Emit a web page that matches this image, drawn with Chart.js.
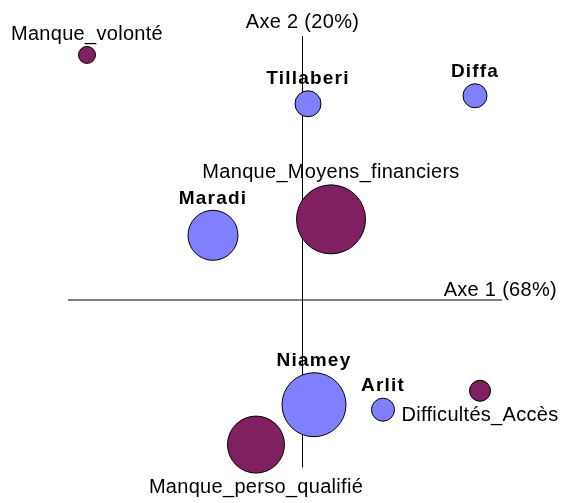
<!DOCTYPE html>
<html lang="fr">

<head>
    <meta charset="UTF-8">
    <title>AFC - Régions / Difficultés</title>
    <script src="https://cdn.jsdelivr.net/npm/chart.js"></script>
    <style>
        body { margin: 0; background: #fff; }
        .grafico { width: 562px; height: 503px; }
    </style>
</head>

<body>
    <div class="grafico">
        <canvas id="afc"></canvas>
    </div>
</body>

</html>
<script>
    // régions (points bleus)
    const regions = ['Tillaberi', 'Diffa', 'Maradi', 'Niamey', 'Arlit'];
    const regionsAxe1 = [0.03, 0.865, -0.445, 0.06, 0.405];
    const regionsAxe2 = [0.98, 1.02, 0.32, -0.53, -0.555];
    const regionsTaille = [13, 12, 25, 32, 11.5];

    // modalités (points violets)
    const modalites = ['Manque_volonté', 'Manque_Moyens_financiers', 'Difficultés_Accès', 'Manque_perso_qualifié'];
    const modalitesAxe1 = [-1.075, 0.145, 0.89, -0.23];
    const modalitesAxe2 = [1.225, 0.40, -0.46, -0.73];
    const modalitesTaille = [8.5, 34.5, 10.5, 28.5];

    const axe1 = 'Axe 1 (68%)';
    const axe2 = 'Axe 2 (20%)';

    function points(xs, ys, rs) {
        return xs.map((x, i) => ({ x: x, y: ys[i], r: rs[i] }));
    }

    // position des étiquettes (au-dessus / en dessous du point)
    const placeModalites = ['haut', 'haut', 'bas', 'bas'];
    const placeRegions = ['haut', 'haut', 'haut', 'haut', 'haut'];

    const police = '"Liberation Sans", Arial, sans-serif';

    const axesCentre = {
        id: 'axesCentre',
        beforeDatasetsDraw(chart) {
            const ctx = chart.ctx;
            const a = chart.chartArea;
            const x0 = Math.round(chart.scales.x.getPixelForValue(0)) + 0.5;
            const y0 = Math.round(chart.scales.y.getPixelForValue(0)) + 1;
            ctx.save();
            ctx.strokeStyle = '#000';
            ctx.lineWidth = 1;
            ctx.beginPath();
            ctx.moveTo(x0, a.top);
            ctx.lineTo(x0, a.bottom);
            ctx.moveTo(a.left, y0);
            ctx.lineTo(a.right, y0);
            ctx.stroke();

            ctx.fillStyle = '#000';
            ctx.font = '20px ' + police;
            ctx.letterSpacing = '0.3px';
            ctx.textBaseline = 'middle';
            ctx.textAlign = 'center';
            ctx.fillText(axe2, x0, a.top - 14);
            ctx.textAlign = 'right';
            ctx.fillText(axe1, a.right + 55, y0 - 10);
            ctx.restore();
        }
    };

    const etiquettes = {
        id: 'etiquettes',
        afterDatasetsDraw(chart) {
            const ctx = chart.ctx;
            ctx.save();
            ctx.fillStyle = '#000';
            ctx.textAlign = 'center';
            ctx.textBaseline = 'middle';
            chart.data.datasets.forEach((ds, d) => {
                const meta = chart.getDatasetMeta(d);
                if (ds.gras) {
                    ctx.font = 'bold 19px ' + police;
                    ctx.letterSpacing = '1.2px';
                } else {
                    ctx.font = '20px ' + police;
                    ctx.letterSpacing = '0.3px';
                }
                meta.data.forEach((el, i) => {
                    const r = ds.data[i].r;
                    const y = ds.places[i] === 'bas' ? el.y + r + 14 : el.y - r - 12;
                    ctx.fillText(ds.noms[i], el.x, y);
                });
            });
            ctx.restore();
        }
    };

    new Chart(document.getElementById('afc'), {
        type: 'bubble',
        data: {
            datasets: [{
                label: 'Régions',
                data: points(regionsAxe1, regionsAxe2, regionsTaille),
                noms: regions,
                places: placeRegions,
                gras: true,
                backgroundColor: '#8080ff',
                borderColor: '#000',
                borderWidth: 1,
                clip: false
            }, {
                label: 'Difficultés',
                data: points(modalitesAxe1, modalitesAxe2, modalitesTaille),
                noms: modalites,
                places: placeModalites,
                gras: false,
                backgroundColor: '#802060',
                borderColor: '#000',
                borderWidth: 1,
                clip: false
            }]
        },
        options: {
            responsive: true,
            maintainAspectRatio: false,
            animation: false,
            events: [],
            layout: {
                padding: { left: 68, right: 60, top: 36, bottom: 34 }
            },
            plugins: {
                legend: { display: false },
                tooltip: { enabled: false }
            },
            scales: {
                x: { type: 'linear', min: -1.17, max: 1.0, display: false },
                y: { type: 'linear', min: -0.845, max: 1.32, display: false }
            }
        },
        plugins: [axesCentre, etiquettes]
    });
</script>
